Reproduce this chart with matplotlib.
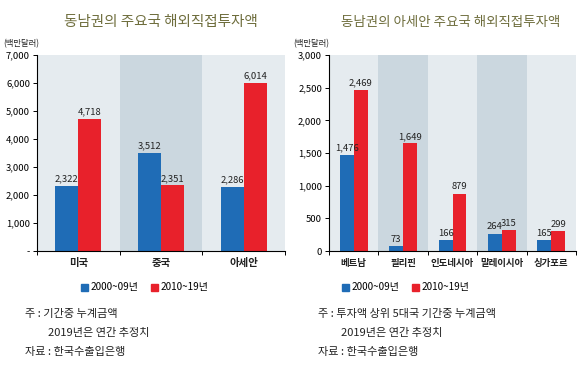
import matplotlib.pyplot as plt
from matplotlib.patches import Rectangle

plt.rcParams['font.family'] = ['Noto Sans CJK KR', 'DejaVu Sans']

# left chart data
left_cats = ['미국', '중국', '아세안']
left_a = [2322, 3512, 2286]
left_b = [4718, 2351, 6014]

# right chart data
right_cats = ['베트남', '필리핀', '인도네시아', '말레이시아', '싱가포르']
right_a = [1476, 73, 166, 264, 165]
right_b = [2469, 1649, 879, 315, 299]

series_names = ['2000~09년', '2010~19년']
BLUE = '#1f6cb6'
RED = '#e8212b'
BAND_LIGHT = '#e5ebef'
BAND_DARK = '#cbd7df'
TITLE_C = '#6e6d3c'

W, H = 580, 380
fig = plt.figure(figsize=(W / 100, H / 100), dpi=100)


def px_axes(x0, y0, x1, y1):
    return fig.add_axes([x0 / W, 1 - y1 / H, (x1 - x0) / W, (y1 - y0) / H])


def panel(ax, cats, a, b, ymax, step, zero_label, cat_size):
    n = len(cats)
    for i in range(n):
        c = BAND_DARK if i % 2 == 1 else BAND_LIGHT
        ax.add_patch(Rectangle((i - 0.5, 0), 1, ymax, color=c, zorder=0, lw=0))
    w = 0.28
    xs = list(range(n))
    ax.bar([x - w / 2 for x in xs], a, width=w, color=BLUE, zorder=2)
    ax.bar([x + w / 2 for x in xs], b, width=w, color=RED, zorder=2)
    for x, v in zip(xs, a):
        ax.text(x - w / 2, v + ymax * 0.012, f'{v:,}', ha='center', va='bottom',
                fontsize=6.8, color='#222222')
    for x, v in zip(xs, b):
        ax.text(x + w / 2, v + ymax * 0.012, f'{v:,}', ha='center', va='bottom',
                fontsize=6.8, color='#222222')
    ax.set_xlim(-0.5, n - 0.5)
    ax.set_ylim(0, ymax)
    ticks = list(range(0, ymax + 1, step))
    ax.set_yticks(ticks)
    ax.set_yticklabels([zero_label] + [f'{t:,}' for t in ticks[1:]], fontsize=6.8)
    ax.set_xticks(xs)
    ax.set_xticklabels(cats, fontsize=cat_size, fontweight='bold', color='#222222')
    ax.set_xticks([i + 0.5 for i in range(-1, n)], minor=True)
    ax.tick_params(axis='x', which='major', length=0, pad=5)
    ax.tick_params(axis='x', which='minor', length=3, width=0.7, direction='out')
    ax.tick_params(axis='y', length=3, width=0.7, pad=2)
    for s in ['top', 'right']:
        ax.spines[s].set_visible(False)
    ax.spines['left'].set_linewidth(0.8)
    ax.spines['bottom'].set_linewidth(0.8)


ax1 = px_axes(37, 55, 285, 251)
panel(ax1, left_cats, left_a, left_b, 7000, 1000, '-', 7.5)
ax2 = px_axes(329, 55, 576, 251)
panel(ax2, right_cats, right_a, right_b, 3000, 500, '0', 6.8)

# titles
fig.text(161 / W, 1 - 22 / H, '동남권의 주요국 해외직접투자액', ha='center', va='center',
         fontsize=10.5, color=TITLE_C)
fig.text(451 / W, 1 - 22 / H, '동남권의 아세안 주요국 해외직접투자액', ha='center', va='center',
         fontsize=9.7, color=TITLE_C)
fig.text(3 / W, 1 - 44 / H, '(백만달러)', ha='left', va='center', fontsize=6, color='#222222')
fig.text(293 / W, 1 - 44 / H, '(백만달러)', ha='left', va='center', fontsize=6, color='#222222')


def legend(x0):
    y = 1 - 287 / H
    fig.patches.append(Rectangle((x0 / W, y - 3.5 / H), 7 / W, 7 / H, color=BLUE,
                                 transform=fig.transFigure, figure=fig))
    fig.text((x0 + 10) / W, y, series_names[0], ha='left', va='center', fontsize=7.2)
    fig.patches.append(Rectangle(((x0 + 70) / W, y - 3.5 / H), 7 / W, 7 / H, color=RED,
                                 transform=fig.transFigure, figure=fig))
    fig.text((x0 + 80) / W, y, series_names[1], ha='left', va='center', fontsize=7.2)


legend(81)
legend(342)

notes_left = ['주 : 기간중 누계금액', '2019년은 연간 추정치', '자료 : 한국수출입은행']
notes_right = ['주 : 투자액 상위 5대국 기간중 누계금액', '2019년은 연간 추정치', '자료 : 한국수출입은행']
indent = [0, 23, 0]
for i, (nl, nr) in enumerate(zip(notes_left, notes_right)):
    y = 1 - (314 + i * 19) / H
    fig.text((25 + indent[i]) / W, y, nl, ha='left', va='center', fontsize=8, color='#222222')
    fig.text((318 + indent[i]) / W, y, nr, ha='left', va='center', fontsize=8, color='#222222')

fig.savefig('out.png', dpi=100)
